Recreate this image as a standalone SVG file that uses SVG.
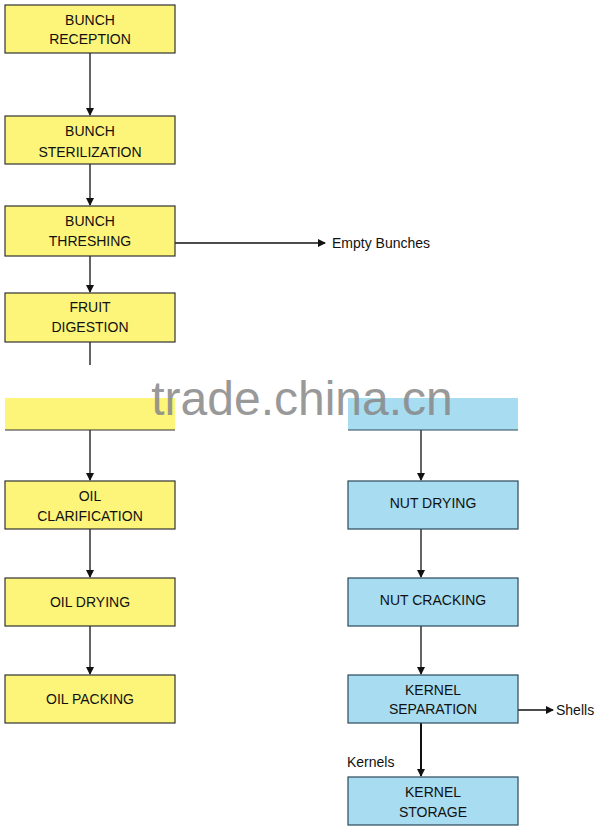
<svg xmlns="http://www.w3.org/2000/svg" width="600" height="829" viewBox="0 0 600 829">
<style>
.y{fill:#fdf57a;stroke:#333;stroke-width:1.2}
.b{fill:#a8dcf0;stroke:#2a4a5a;stroke-width:1.2}
text{font-family:"Liberation Sans",Arial,sans-serif;font-size:14px;fill:#111;text-anchor:middle}
.l{text-anchor:start}
.c line{stroke:#111;stroke-width:1.3}
</style>
<defs><marker id="a" markerWidth="8" markerHeight="8" refX="7" refY="4" orient="auto" markerUnits="userSpaceOnUse"><path d="M0,0L8,4L0,8z" fill="#111"/></marker></defs>
<rect width="600" height="829" fill="#fff"/>
<g class="c">
<line x1="90" y1="53" x2="90" y2="115" marker-end="url(#a)"/>
<line x1="90" y1="164" x2="90" y2="205" marker-end="url(#a)"/>
<line x1="90" y1="256" x2="90" y2="292" marker-end="url(#a)"/>
<line x1="90" y1="342" x2="90" y2="365"/>
<line x1="90" y1="430" x2="90" y2="480" marker-end="url(#a)"/>
<line x1="90" y1="529" x2="90" y2="577" marker-end="url(#a)"/>
<line x1="90" y1="626" x2="90" y2="674" marker-end="url(#a)"/>
<line x1="175" y1="243" x2="325" y2="243" marker-end="url(#a)"/>
<line x1="421" y1="430" x2="421" y2="480" marker-end="url(#a)"/>
<line x1="421" y1="529" x2="421" y2="577" marker-end="url(#a)"/>
<line x1="421" y1="626" x2="421" y2="674" marker-end="url(#a)"/>
<line x1="421" y1="723" x2="421" y2="776" marker-end="url(#a)" style="stroke-width:2"/>
<line x1="518" y1="710" x2="553" y2="710" marker-end="url(#a)"/>
</g>
<g id="n1"><rect class="y" x="5" y="5" width="170" height="48"/><text x="90" y="25">BUNCH</text><text x="90" y="44">RECEPTION</text></g>
<g id="n2"><rect class="y" x="5" y="116" width="170" height="48"/><text x="90" y="136">BUNCH</text><text x="90" y="157">STERILIZATION</text></g>
<g id="n3"><rect class="y" x="5" y="206" width="170" height="50"/><text x="90" y="226">BUNCH</text><text x="90" y="246">THRESHING</text></g>
<g id="n4"><rect class="y" x="5" y="293" width="170" height="49"/><text x="90" y="312">FRUIT</text><text x="90" y="332">DIGESTION</text></g>
<g id="n5"><rect class="y" x="5" y="398" width="170" height="32" style="stroke:none"/><line x1="5" y1="430" x2="175" y2="430" stroke="#333" stroke-width="1.2"/></g>
<g id="n6"><rect class="y" x="5" y="481" width="170" height="48"/><text x="90" y="501">OIL</text><text x="90" y="521">CLARIFICATION</text></g>
<g id="n7"><rect class="y" x="5" y="578" width="170" height="48"/><text x="90" y="607">OIL DRYING</text></g>
<g id="n8"><rect class="y" x="5" y="675" width="170" height="48"/><text x="90" y="704">OIL PACKING</text></g>
<g id="m1"><rect class="b" x="348" y="398" width="170" height="32" style="stroke:none"/><line x1="348" y1="430" x2="518" y2="430" stroke="#2a4a5a" stroke-width="1.2"/></g>
<g id="m2"><rect class="b" x="348" y="481" width="170" height="48"/><text x="433" y="508">NUT DRYING</text></g>
<g id="m3"><rect class="b" x="348" y="578" width="170" height="48"/><text x="433" y="605">NUT CRACKING</text></g>
<g id="m4"><rect class="b" x="348" y="675" width="170" height="48"/><text x="433" y="695">KERNEL</text><text x="433" y="714">SEPARATION</text></g>
<g id="m5"><rect class="b" x="348" y="777" width="170" height="48"/><text x="433" y="797">KERNEL</text><text x="433" y="817">STORAGE</text></g>
<text class="l" x="332" y="248">Empty  Bunches</text>
<text class="l" x="556" y="715">Shells</text>
<text class="l" x="347" y="767">Kernels</text>
<text x="302" y="415" style="font-size:48px;fill:#888;opacity:0.85">trade.china.cn</text>
</svg>
